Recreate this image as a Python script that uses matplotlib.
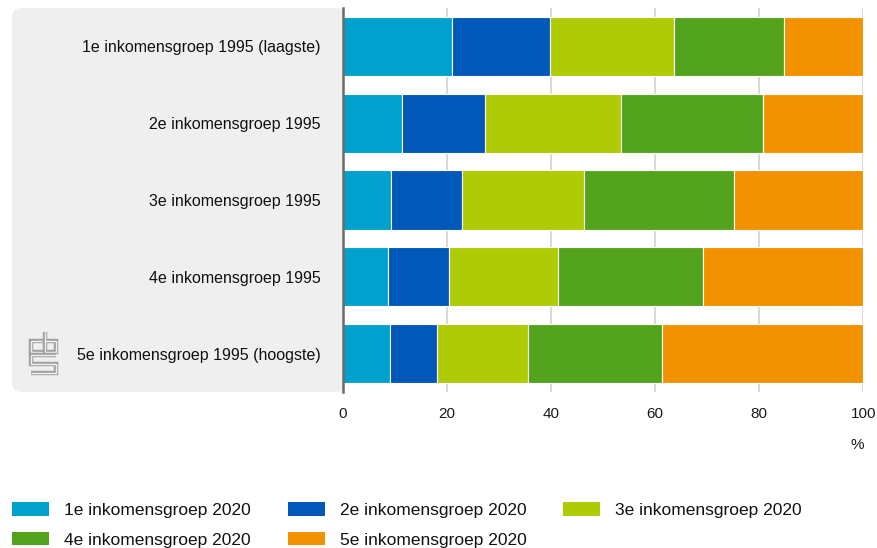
import matplotlib
matplotlib.use("Agg")
import matplotlib.pyplot as plt
from matplotlib.patches import Patch, FancyBboxPatch
from matplotlib.lines import Line2D
import numpy as np

plt.rcParams["font.family"] = ["Liberation Sans", "DejaVu Sans"]

categories = [
    "1e inkomensgroep 1995 (laagste)",
    "2e inkomensgroep 1995",
    "3e inkomensgroep 1995",
    "4e inkomensgroep 1995",
    "5e inkomensgroep 1995 (hoogste)",
]
series_names = [
    "1e inkomensgroep 2020",
    "2e inkomensgroep 2020",
    "3e inkomensgroep 2020",
    "4e inkomensgroep 2020",
    "5e inkomensgroep 2020",
]
g1 = [21.0, 11.4, 9.3, 8.8, 9.1]
g2 = [18.9, 16.0, 13.6, 11.6, 9.0]
g3 = [23.8, 26.1, 23.5, 20.9, 17.6]
g4 = [21.1, 27.2, 28.8, 28.0, 25.7]
g5 = [15.2, 19.3, 24.8, 30.7, 38.6]
xticks = [0, 20, 40, 60, 80, 100]
unit_label = "%"

colors = ["#00a1cd", "#0058b8", "#afcb05", "#53a31d", "#f39200"]

W, H = 878, 548
fig = plt.figure(figsize=(W / 100, H / 100), dpi=100)

def px(x, y):
    return (x / 100.0, (H - y) / 100.0)

# grey panel behind labels
panel = FancyBboxPatch(px(12, 392), (346 - 12) / 100.0, (392 - 8) / 100.0,
                       boxstyle="round,pad=0,rounding_size=0.1",
                       transform=fig.dpi_scale_trans, facecolor="#efefef",
                       edgecolor="none", zorder=-1)
fig.patches.append(panel)

ax = fig.add_axes([342.5 / W, 1 - 392 / H, (863.3 - 342.5) / W, (392 - 8) / H])
ax.set_facecolor("white")

y = np.arange(len(categories))
series = [g1, g2, g3, g4, g5]
left = np.zeros(len(categories))
handles = []
for vals, col, name in zip(series, colors, series_names):
    ax.barh(y, vals, left=left, height=0.77, color=col, edgecolor="white",
            linewidth=0.8, zorder=2)
    left += np.array(vals)
    handles.append(Patch(facecolor=col, edgecolor="none", label=name))

ax.set_xlim(0, 100)
ax.set_ylim(len(categories) - 0.5, -0.5)
ax.set_xticks(xticks)
ax.set_xticklabels([str(t) for t in xticks])
ax.set_yticks(y)
ax.set_yticklabels(categories)
ax.set_axisbelow(True)
ax.xaxis.grid(True, color="#d6d6d6", linewidth=1.3, zorder=0)
for s in ["top", "right", "bottom"]:
    ax.spines[s].set_visible(False)
ax.spines["left"].set_color("#6b6b6b")
ax.spines["left"].set_linewidth(1.8)
ax.spines["left"].set_zorder(3)
ax.tick_params(axis="x", length=0, pad=10.5, labelsize=11, labelcolor="#1a1a1a")
ax.tick_params(axis="y", length=0, pad=16, labelsize=11.5, labelcolor="#111111")

fig.text(857 / W, 1 - 445 / H, unit_label, ha="center", va="center",
         fontsize=11, color="#1a1a1a")

# legend (row-major order)
order = [0, 3, 1, 4, 2]
leg = fig.legend([handles[i] for i in order], [series_names[i] for i in order],
                 ncol=3, loc="upper left", bbox_to_anchor=(12 / W, 1 - 502 / H),
                 frameon=False, fontsize=12.5, handlelength=2.13,
                 handleheight=0.86, handletextpad=0.86, columnspacing=2.13,
                 labelspacing=0.78, borderpad=0, borderaxespad=0)
for t in leg.get_texts():
    t.set_color("#111111")

# cbs logo (outlined strokes)
logo_paths = [
    [(43, 341), (31, 341), (31, 352), (43, 352)],
    [(45, 332), (45, 352), (56, 352), (56, 341), (45, 341)],
    [(56, 355), (31, 355), (31, 364), (56, 364), (56, 373), (31, 373)],
]
for pth in logo_paths:
    xs = [px(a, b)[0] for a, b in pth]
    ys = [px(a, b)[1] for a, b in pth]
    fig.add_artist(Line2D(xs, ys, transform=fig.dpi_scale_trans,
                          color="#a0a0a0", linewidth=3.2,
                          solid_joinstyle="miter", solid_capstyle="butt"))
    fig.add_artist(Line2D(xs, ys, transform=fig.dpi_scale_trans,
                          color="#efefef", linewidth=1.0,
                          solid_joinstyle="miter", solid_capstyle="butt"))

fig.savefig("out.png", dpi=100)
